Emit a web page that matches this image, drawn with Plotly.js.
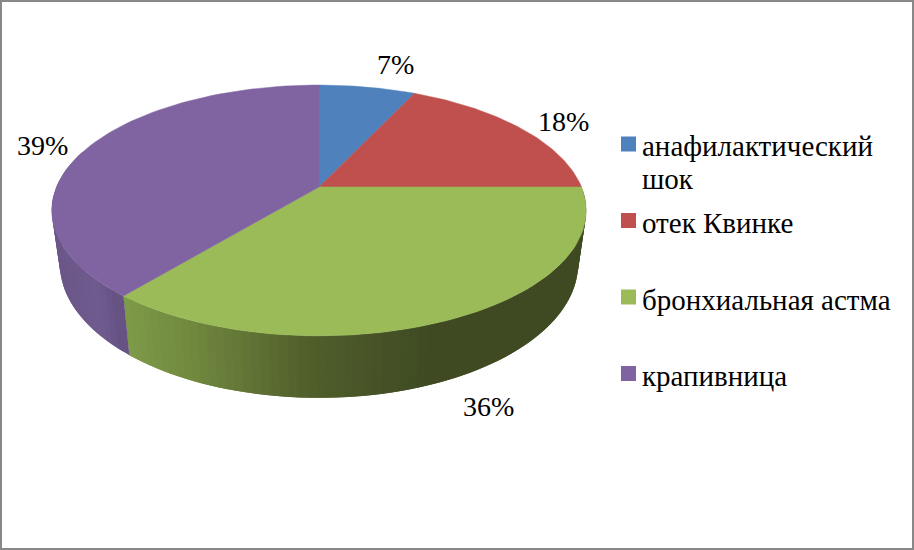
<!DOCTYPE html>
<html><head><meta charset="utf-8">
<script src="https://cdn.plot.ly/plotly-3.0.1.min.js"></script>
<style>html,body{margin:0;padding:0;background:#fff}</style></head>
<body><div id="chart" style="width:914px;height:550px"></div>
<script>
const categories = ['анафилактический<br>шок', 'отек Квинке', 'бронхиальная астма', 'крапивница'];
const values = [7, 18, 36, 39];
const topColors = ['#4F81BD', '#C0504D', '#9BBB59', '#8064A2'];

const FONT = '"Liberation Serif","Times New Roman",serif';
const cx = 319, cy = 187, a = 262.5, b = 121, k = 0.187;
const sx = 0.97, sy = 1.07, y0 = 238.6;

function topPt(t){ const w = 1 + k*Math.cos(t);
  return [cx + a*Math.sin(t)/w, cy - b*Math.cos(t)/w]; }
function botPt(t){ const p = topPt(t);
  return [cx + sx*(p[0]-cx), y0 + sy*(p[1]-cy)]; }
function hex(c){ return [1,3,5].map(i=>parseInt(c.substr(i,2),16)); }
function ramp(stops, x){
  if (x <= stops[0][0]) return stops[0][1];
  for (let i=1;i<stops.length;i++) if (x <= stops[i][0]) {
    const f=(x-stops[i-1][0])/(stops[i][0]-stops[i-1][0]);
    const A=hex(stops[i-1][1]),B=hex(stops[i][1]);
    return 'rgb('+A.map((v,j)=>Math.round(v+(B[j]-v)*f)).join(',')+')';
  }
  return stops[stops.length-1][1];
}
const wallRamps = {
  2: [[124,'#7F9C4A'],[200,'#70883E'],[319,'#505E2B'],[440,'#3F4A22'],[600,'#3F4A22']],
  3: [[55,'#6B5688'],[100,'#705B8F'],[128,'#63507F']]
};
const total = values.reduce((s,v)=>s+v,0);
const traces = [];
let start = 0;
const spans = values.map(v=>{ const s=[start,start+v/total*2*Math.PI]; start=s[1]; return s; });

// side walls: overlapping narrow bands, painted so each seam sits on its neighbour
[2,3].forEach(i=>{
  const from = spans[i][0], to = Math.min(spans[i][1], 1.6*Math.PI);
  const n = Math.ceil((to-from)/0.03);
  const step=(to-from)/n;
  for (let j=n-1;j>=0;j--){
    const t0=from+step*j, t1=Math.min(to,t0+step*(j===n-1?1:2));
    const P=[topPt(t0),topPt(t1),botPt(t1),botPt(t0),topPt(t0)];
    const col=ramp(wallRamps[i],topPt(t0+step/2)[0]);
    traces.push({type:'scatter',mode:'none',x:P.map(p=>p[0]),y:P.map(p=>p[1]),fill:'toself',
      fillcolor:col,showlegend:false,hoverinfo:'skip'});
  }
});
// top faces
values.forEach((v,i)=>{
  const xs=[cx],ys=[cy],n=80;
  for(let j=0;j<=n;j++){const p=topPt(spans[i][0]+(spans[i][1]-spans[i][0])*j/n);xs.push(p[0]);ys.push(p[1]);}
  xs.push(cx);ys.push(cy);
  traces.push({type:'scatter',mode:'lines',x:xs,y:ys,fill:'toself',fillcolor:topColors[i],
    line:{color:topColors[i],width:0.5},name:categories[i],showlegend:false,hoverinfo:'name'});
});
// legend keys
const legendY=[144,220.5,297,373.5];
traces.push({type:'scatter',mode:'markers',x:legendY.map(()=>628.5),y:legendY,
  marker:{symbol:'square',size:15,color:topColors,line:{width:0}},showlegend:false,hoverinfo:'skip'});

const labelPos=[[395,64],[563,121],[488,406],[42,145]];
const annotations = values.map((v,i)=>({x:labelPos[i][0],y:labelPos[i][1],text:v+'%',showarrow:false,
  xanchor:'center',yanchor:'middle',font:{family:FONT,size:28,color:'#000'}}));
const legendLineY=[[146,179],[223],[300],[376]];
categories.forEach((c,i)=>c.split('<br>').forEach((line,l)=>annotations.push({x:642,y:legendLineY[i][l],text:line,
  showarrow:false,align:'left',xanchor:'left',yanchor:'middle',xshift:-2,font:{family:FONT,size:29,color:'#000'}})));

Plotly.newPlot('chart',traces,{
  width:914,height:550,margin:{l:0,r:0,t:0,b:0},paper_bgcolor:'#fff',plot_bgcolor:'#fff',
  xaxis:{range:[0,914],visible:false,fixedrange:true},
  yaxis:{range:[550,0],visible:false,fixedrange:true},
  annotations,
  shapes:[{type:'rect',xref:'paper',yref:'paper',x0:1/914,x1:913/914,y0:1/550,y1:549/550,
    line:{color:'#888888',width:2},fillcolor:'rgba(0,0,0,0)'}],
  showlegend:false
},{displayModeBar:false,staticPlot:true});
</script></body></html>
